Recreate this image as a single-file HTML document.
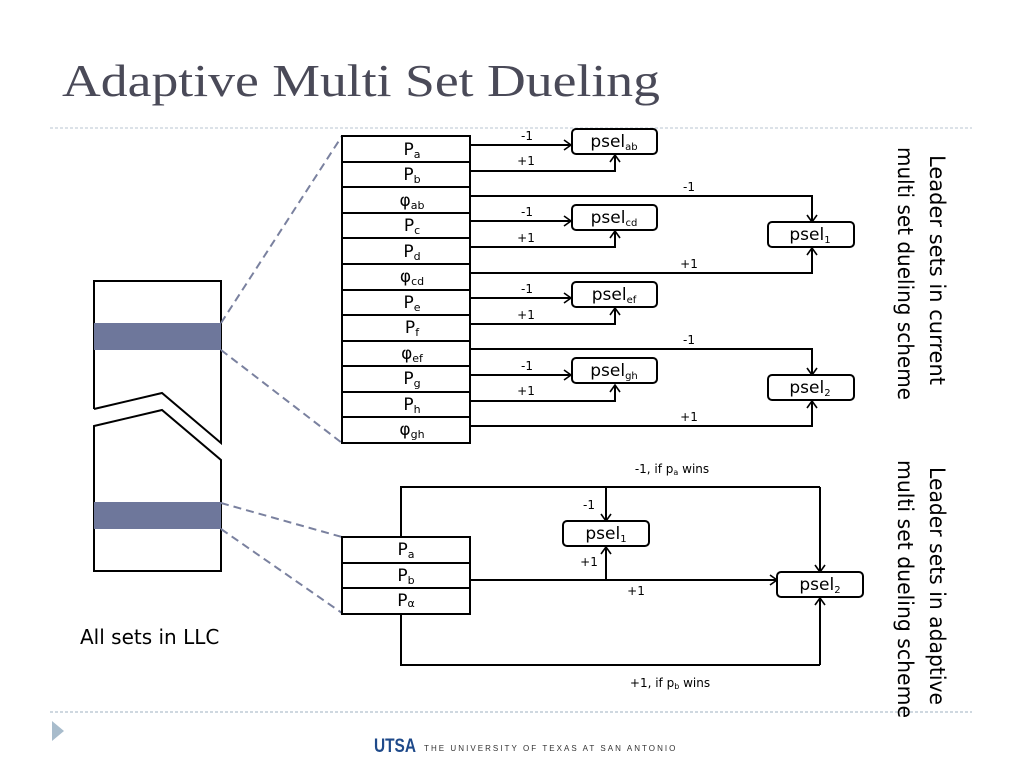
<!DOCTYPE html>
<html><head><meta charset="utf-8"><style>
html,body{margin:0;padding:0;background:#fff;}
svg{display:block;}
text{font-family:"DejaVu Sans","Liberation Sans",sans-serif;fill:#000;}
.l{font-size:12px;}
.p{font-size:17px;}
</style></head><body>
<svg width="1024" height="768" viewBox="0 0 1024 768" xmlns="http://www.w3.org/2000/svg">
<defs>
<marker id="a" markerWidth="12" markerHeight="12" refX="9" refY="6" orient="auto" markerUnits="userSpaceOnUse">
<path d="M2,1 L9,6 L2,11" fill="none" stroke="#000" stroke-width="1.6"/>
</marker>
</defs>
<text x="62" y="96" style="font-family:'Liberation Serif',serif;font-size:46px;fill:#4a4a58" textLength="598" lengthAdjust="spacingAndGlyphs">Adaptive Multi Set Dueling</text>
<line x1="50" y1="128" x2="972" y2="128" stroke="#b8c4d0" stroke-dasharray="3,2"/>
<line x1="50" y1="712" x2="972" y2="712" stroke="#9fb0c0" stroke-dasharray="3,2"/>
<path d="M52,721 L64,731 L52,741 Z" fill="#a8bccc"/>
<text x="374" y="752" style="font-family:'Liberation Sans',sans-serif;font-weight:bold;font-size:19px;fill:#1f4a8a" textLength="42" lengthAdjust="spacingAndGlyphs">UTSA</text>
<text x="424" y="751" style="font-family:'Liberation Sans',sans-serif;font-size:8px;fill:#333;letter-spacing:1.6px" textLength="253">THE UNIVERSITY OF TEXAS AT SAN ANTONIO</text>

<g stroke="#000" stroke-width="2" fill="none">
<path d="M94,409 L94,281 L221,281 L221,443 L162,393 L94,409"/>
<path d="M94,426 L162,410 L221,460 L221,571 L94,571 Z"/>
</g>
<rect x="94" y="323" width="127" height="27" fill="#6e779b"/>
<rect x="94" y="502" width="127" height="27" fill="#6e779b"/>
<g stroke="#7a819f" stroke-width="2" stroke-dasharray="8,5" fill="none">
<line x1="221" y1="323" x2="342" y2="136"/>
<line x1="221" y1="350" x2="342" y2="443"/>
<line x1="221" y1="503" x2="342" y2="537"/>
<line x1="221" y1="529" x2="342" y2="613"/>
</g>
<text x="80" y="644" style="font-size:20px;font-family:'DejaVu Sans',sans-serif">All sets in LLC</text>

<g stroke="#000" stroke-width="2" fill="#fff">
<rect x="342" y="136" width="128" height="307"/>
</g>
<g stroke="#000" stroke-width="2">
<line x1="342" y1="162" x2="470" y2="162"/><line x1="342" y1="187" x2="470" y2="187"/>
<line x1="342" y1="213" x2="470" y2="213"/><line x1="342" y1="238" x2="470" y2="238"/>
<line x1="342" y1="264" x2="470" y2="264"/><line x1="342" y1="290" x2="470" y2="290"/>
<line x1="342" y1="315" x2="470" y2="315"/><line x1="342" y1="341" x2="470" y2="341"/>
<line x1="342" y1="366" x2="470" y2="366"/><line x1="342" y1="392" x2="470" y2="392"/>
<line x1="342" y1="417" x2="470" y2="417"/>
</g>
<g class="p" text-anchor="middle">
<text x="412" y="155">P<tspan font-size="11" dy="3">a</tspan></text>
<text x="412" y="180">P<tspan font-size="11" dy="3">b</tspan></text>
<text x="412" y="206">φ<tspan font-size="11" dy="3">ab</tspan></text>
<text x="412" y="231">P<tspan font-size="11" dy="3">c</tspan></text>
<text x="412" y="257">P<tspan font-size="11" dy="3">d</tspan></text>
<text x="412" y="282">φ<tspan font-size="11" dy="3">cd</tspan></text>
<text x="412" y="308">P<tspan font-size="11" dy="3">e</tspan></text>
<text x="412" y="333">P<tspan font-size="11" dy="3">f</tspan></text>
<text x="412" y="359">φ<tspan font-size="11" dy="3">ef</tspan></text>
<text x="412" y="384">P<tspan font-size="11" dy="3">g</tspan></text>
<text x="412" y="410">P<tspan font-size="11" dy="3">h</tspan></text>
<text x="412" y="435">φ<tspan font-size="11" dy="3">gh</tspan></text>
</g>

<g stroke="#000" stroke-width="2" fill="none" marker-end="url(#a)">
<line x1="470" y1="145" x2="571" y2="145"/>
<polyline points="470,171 615,171 615,155"/>
<line x1="470" y1="221" x2="571" y2="221"/>
<polyline points="470,247 615,247 615,231"/>
<line x1="470" y1="298" x2="571" y2="298"/>
<polyline points="470,324 615,324 615,308"/>
<line x1="470" y1="375" x2="571" y2="375"/>
<polyline points="470,401 615,401 615,385"/>
<polyline points="470,196 812,196 812,222"/>
<polyline points="470,273 812,273 812,248"/>
<polyline points="470,349 812,349 812,375"/>
<polyline points="470,426 812,426 812,401"/>
</g>
<g stroke="#000" stroke-width="2" fill="#fff">
<rect x="572" y="129" width="85" height="25" rx="4"/>
<rect x="572" y="205" width="85" height="25" rx="4"/>
<rect x="572" y="282" width="85" height="25" rx="4"/>
<rect x="572" y="358" width="85" height="25" rx="4"/>
<rect x="768" y="222" width="86" height="25" rx="4"/>
<rect x="768" y="375" width="86" height="25" rx="4"/>
</g>
<g class="p" text-anchor="middle">
<text x="614" y="147">psel<tspan font-size="10" dy="3">ab</tspan></text>
<text x="614" y="223">psel<tspan font-size="10" dy="3">cd</tspan></text>
<text x="614" y="300">psel<tspan font-size="10" dy="3">ef</tspan></text>
<text x="614" y="376">psel<tspan font-size="10" dy="3">gh</tspan></text>
<text x="810" y="240">psel<tspan font-size="10" dy="3">1</tspan></text>
<text x="810" y="393">psel<tspan font-size="10" dy="3">2</tspan></text>
</g>
<g class="l" text-anchor="middle">
<text x="527" y="140">-1</text><text x="526" y="165">+1</text>
<text x="527" y="216">-1</text><text x="526" y="242">+1</text>
<text x="527" y="293">-1</text><text x="526" y="319">+1</text>
<text x="527" y="370">-1</text><text x="526" y="395">+1</text>
<text x="689" y="191">-1</text><text x="689" y="268">+1</text>
<text x="689" y="344">-1</text><text x="689" y="421">+1</text>
</g>

<g stroke="#000" stroke-width="2" fill="none">
<polyline points="401,537 401,487 820,487"/>
<polyline points="401,614 401,665 820,665"/>
</g>
<g stroke="#000" stroke-width="2" fill="none" marker-end="url(#a)">
<line x1="820" y1="487" x2="820" y2="572"/>
<line x1="820" y1="665" x2="820" y2="598"/>
<line x1="606" y1="487" x2="606" y2="521"/>
<line x1="470" y1="580" x2="777" y2="580"/>
<line x1="606" y1="580" x2="606" y2="547"/>
</g>
<g stroke="#000" stroke-width="2" fill="#fff">
<rect x="342" y="537" width="128" height="77"/>
<rect x="563" y="521" width="86" height="25" rx="4"/>
<rect x="777" y="572" width="86" height="25" rx="4"/>
</g>
<g stroke="#000" stroke-width="2">
<line x1="342" y1="563" x2="470" y2="563"/><line x1="342" y1="588" x2="470" y2="588"/>
</g>
<g class="p" text-anchor="middle">
<text x="406" y="555">P<tspan font-size="11" dy="3">a</tspan></text>
<text x="406" y="581">P<tspan font-size="11" dy="3">b</tspan></text>
<text x="406" y="606">P<tspan font-size="11" dy="1">α</tspan></text>
<text x="606" y="539">psel<tspan font-size="10" dy="3">1</tspan></text>
<text x="820" y="590">psel<tspan font-size="10" dy="3">2</tspan></text>
</g>
<g class="l" text-anchor="middle">
<text x="672" y="473">-1, if p<tspan font-size="8" dy="2">a</tspan><tspan dy="-2"> wins</tspan></text>
<text x="589" y="509">-1</text>
<text x="589" y="566">+1</text>
<text x="636" y="595">+1</text>
<text x="670" y="687">+1, if p<tspan font-size="8" dy="2">b</tspan><tspan dy="-2"> wins</tspan></text>
</g>

<g style="font-size:21px">
<text transform="translate(930,155) rotate(90)" textLength="230" lengthAdjust="spacingAndGlyphs">Leader sets in current</text>
<text transform="translate(898,147) rotate(90)" textLength="253" lengthAdjust="spacingAndGlyphs">multi set dueling scheme</text>
<text transform="translate(930,467) rotate(90)" textLength="238" lengthAdjust="spacingAndGlyphs">Leader sets in adaptive</text>
<text transform="translate(898,460) rotate(90)" textLength="258" lengthAdjust="spacingAndGlyphs">multi set dueling scheme</text>
</g>
</svg>
</body></html>
